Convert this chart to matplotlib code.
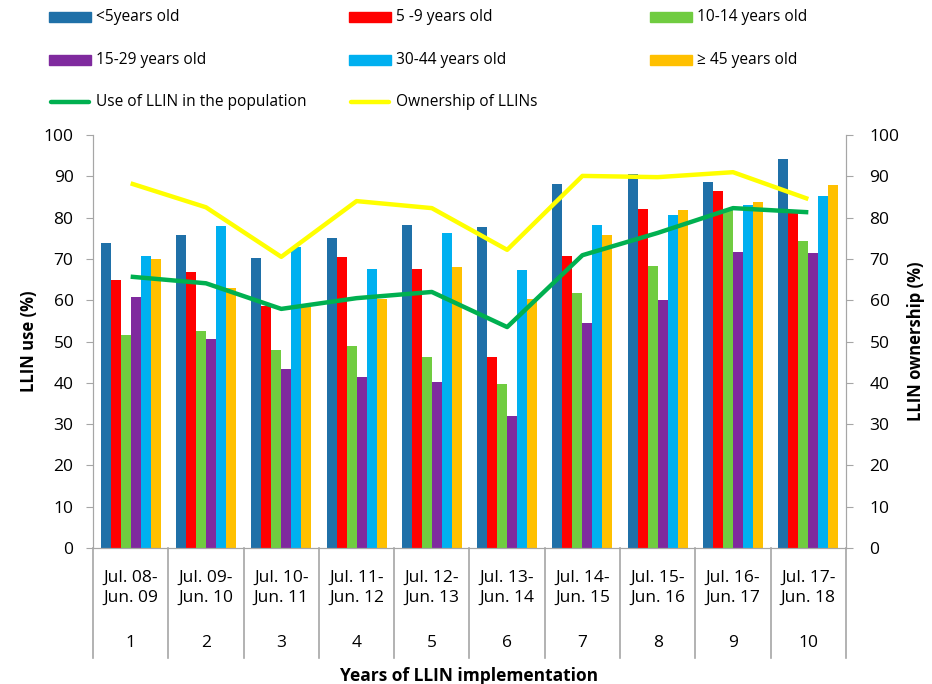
import matplotlib
matplotlib.use("Agg")
import matplotlib.pyplot as plt
import numpy as np
from matplotlib.patches import Rectangle
from matplotlib.lines import Line2D

plt.rcParams['font.family'] = ['Open Sans', 'DejaVu Sans']

periods = ["Jul. 08-\nJun. 09", "Jul. 09-\nJun. 10", "Jul. 10-\nJun. 11", "Jul. 11-\nJun. 12",
           "Jul. 12-\nJun. 13", "Jul. 13-\nJun. 14", "Jul. 14-\nJun. 15", "Jul. 15-\nJun. 16",
           "Jul. 16-\nJun. 17", "Jul. 17-\nJun. 18"]
years = ["1", "2", "3", "4", "5", "6", "7", "8", "9", "10"]

age_labels = ["<5years old", "5 -9 years old", "10-14 years old",
              "15-29 years old", "30-44 years old", "\u2265 45 years old"]
under5 = [73.8, 75.8, 70.3, 75.0, 78.2, 77.7, 88.1, 90.6, 88.6, 94.2]
age5_9 = [64.9, 66.8, 58.6, 70.4, 67.6, 46.2, 70.7, 82.1, 86.4, 81.5]
age10_14 = [51.6, 52.5, 47.9, 48.9, 46.2, 39.7, 61.7, 68.3, 81.8, 74.3]
age15_29 = [60.8, 50.6, 43.3, 41.4, 40.2, 31.9, 54.4, 60.0, 71.7, 71.4]
age30_44 = [70.7, 78.0, 73.0, 67.6, 76.3, 67.3, 78.2, 80.6, 83.0, 85.2]
age45plus = [70.0, 63.0, 58.4, 60.3, 68.0, 60.3, 75.8, 81.8, 83.8, 87.9]

use_pop = [65.7, 64.1, 57.9, 60.5, 62.0, 53.5, 70.9, 76.3, 82.3, 81.3]
ownership = [88.3, 82.5, 70.5, 84.0, 82.3, 72.2, 90.1, 89.8, 91.0, 84.5]

bar_colors = ["#1F70A8", "#FF0000", "#70CC40", "#7F2A9E", "#00B0F0", "#FFC000"]
use_color = "#00B050"
own_color = "#FFFF00"
spine_gray = "#A6A6A6"

fig = plt.figure(figsize=(9.32, 6.84), dpi=100)
ax = fig.add_axes([0.0998, 0.1988, 0.8079, 0.6038])
ax2 = ax.twinx()

x = np.arange(len(years))
series = [under5, age5_9, age10_14, age15_29, age30_44, age45plus]
w = 0.133
for i, (vals, c) in enumerate(zip(series, bar_colors)):
    ax.bar(x + (i - 2.5) * w, vals, width=w, color=c, edgecolor="none", zorder=2)

ax2.plot(x, use_pop, color=use_color, lw=3.2, solid_capstyle="butt", zorder=3)
ax2.plot(x, ownership, color=own_color, lw=3.2, solid_capstyle="butt", zorder=3)

for a in (ax, ax2):
    a.set_ylim(0, 100)
    a.set_yticks(np.arange(0, 101, 10))
    a.set_xlim(-0.5, len(years) - 0.5)
    a.tick_params(axis="y", labelsize=12.5, length=5, color=spine_gray)
    for s in a.spines.values():
        s.set_color(spine_gray)
    a.spines["top"].set_visible(False)
ax.tick_params(axis="y", pad=9)
ax2.tick_params(axis="y", pad=12)
ax.set_xticks([])
ax.set_ylabel("LLIN use (%)", fontsize=12, fontweight="bold", labelpad=4)
ax2.set_ylabel("LLIN ownership (%)", fontsize=12, fontweight="bold", labelpad=5)

# two-level category axis
trans = matplotlib.transforms.blended_transform_factory(ax.transData, ax.transAxes)
for b in np.arange(-0.5, len(years)):
    ax.plot([b, b], [0, -0.266], transform=trans, color=spine_gray, lw=1.2, clip_on=False)
for xi, p, yr in zip(x, periods, years):
    ax.text(xi, -0.097, p, transform=trans, ha="center", va="center", fontsize=12.5,
            linespacing=1.35)
    ax.text(xi, -0.23, yr, transform=trans, ha="center", va="center", fontsize=12.5)
ax.text(0.5, -0.31, "Years of LLIN implementation", transform=ax.transAxes,
        ha="center", va="center", fontsize=12.5, fontweight="bold")

# legend laid out in three columns
handles = [("bar", c, l) for c, l in zip(bar_colors, age_labels)]
handles += [("line", use_color, "Use of LLIN in the population"),
            ("line", own_color, "Ownership of LLINs")]
col_x = [49, 349, 650]
row_y = [17, 60, 102]
W, H = 932, 684
for k, (kind, c, lab) in enumerate(handles):
    r, cidx = divmod(k, 3)
    x0 = col_x[cidx] / W
    y0 = 1 - row_y[r] / H
    if kind == "bar":
        fig.add_artist(Rectangle((x0, y0 - 5 / H), 42 / W, 10 / H,
                                 transform=fig.transFigure, color=c))
    else:
        fig.add_artist(Line2D([x0 + 2 / W, x0 + 40 / W], [y0, y0], transform=fig.transFigure,
                              color=c, lw=3.2, solid_capstyle="round"))
    fig.text(x0 + 47 / W, y0, lab, ha="left", va="center", fontsize=11.2)

fig.savefig("out.png", dpi=100)
